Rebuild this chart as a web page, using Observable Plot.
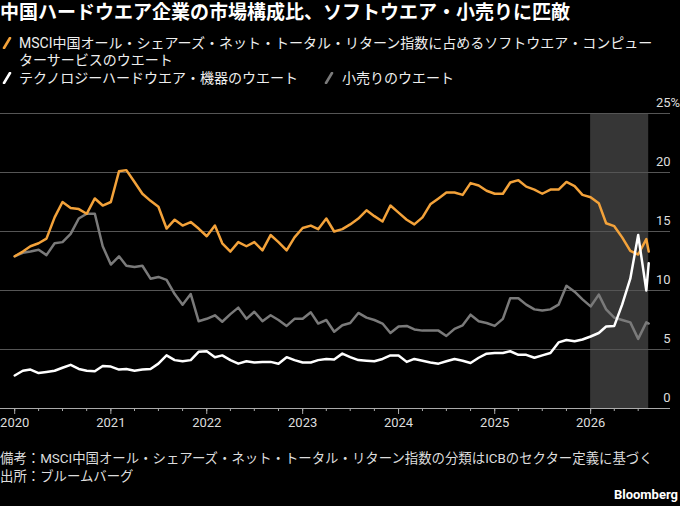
<!DOCTYPE html>
<html><head><meta charset="utf-8">
<script src="https://cdn.jsdelivr.net/npm/d3@7"></script>
<script src="https://cdn.jsdelivr.net/npm/@observablehq/plot@0.6"></script>
<style>
body{margin:0;background:#000;}
#wrap{position:relative;width:680px;height:506px;background:#000;overflow:hidden;font-family:Roboto,"Noto Sans CJK JP",sans-serif;color:#fff;}
.title{position:absolute;left:0;top:0px;font-size:19px;font-weight:bold;line-height:25px;white-space:nowrap;}
.leg{position:absolute;font-size:14px;line-height:18px;white-space:nowrap;color:#eee;}
.ico{position:absolute;}
#chart{position:absolute;left:0;top:90px;}
.foot{position:absolute;left:0;font-size:13.4px;line-height:18px;white-space:nowrap;color:#ddd;}
.brand{position:absolute;right:2px;top:487px;font-size:13px;font-weight:bold;color:#fff;font-family:Roboto,sans-serif;}
</style></head>
<body>
<div id="wrap">
  <div class="title">中国ハードウエア企業の市場構成比、ソフトウエア・小売りに匹敵</div>
  <svg class="ico" style="left:2px;top:37px" width="10" height="12"><line x1="2" y1="11" x2="8" y2="1" stroke="#f3a23a" stroke-width="2.6" stroke-linecap="round"/></svg>
  <div class="leg" style="left:19px;top:34px">MSCI中国オール・シェアーズ・ネット・トータル・リターン指数に占めるソフトウエア・コンピュー</div>
  <div class="leg" style="left:19px;top:51px">ターサービスのウエート</div>
  <svg class="ico" style="left:2px;top:72px" width="10" height="12"><line x1="2" y1="11" x2="8" y2="1" stroke="#ffffff" stroke-width="2.6" stroke-linecap="round"/></svg>
  <div class="leg" style="left:19px;top:69px">テクノロジーハードウエア・機器のウエート</div>
  <svg class="ico" style="left:324px;top:72px" width="10" height="12"><line x1="2" y1="11" x2="8" y2="1" stroke="#7a7a7a" stroke-width="2.6" stroke-linecap="round"/></svg>
  <div class="leg" style="left:342px;top:69px">小売りのウエート</div>
  <div id="chart"></div>
  <div class="foot" style="top:450px">備考：MSCI中国オール・シェアーズ・ネット・トータル・リターン指数の分類はICBのセクター定義に基づく</div>
  <div class="foot" style="top:468px">出所：ブルームバーグ</div>
  <div class="brand">Bloomberg</div>
</div>
<script>
// Monthly observations from Jan 2020, plus a final partial reading
const startMonth = "2020-01-01";
const lastReading = "2026-08-10";
const software = [12.9,13.3,13.75,14.0,14.4,16.2,17.5,17.0,16.9,16.5,
  17.8,17.2,17.5,20.1,20.2,19.2,18.2,17.6,17.1,15.25,
  16.0,15.5,15.8,15.25,14.6,15.5,14.0,13.3,14.1,13.75,
  14.1,13.4,14.7,14.1,13.4,14.5,15.3,15.5,15.2,16.1,
  15.0,15.2,15.6,16.1,16.8,16.3,15.85,17.2,16.6,16.0,
  15.6,16.2,17.3,17.8,18.3,18.3,18.1,19.1,18.9,18.45,
  18.2,18.2,19.15,19.35,18.8,18.55,18.2,18.55,18.55,19.2,
  18.85,18.1,17.9,17.4,15.7,15.45,14.5,13.35,13.05,14.35,13.3];
const hardware = [2.8,3.2,3.3,3.0,3.1,3.2,3.45,3.7,3.35,3.2,
  3.15,3.6,3.55,3.3,3.35,3.2,3.3,3.35,3.8,4.5,
  4.1,4.0,4.1,4.8,4.85,4.35,4.5,4.1,3.8,4.0,
  3.9,3.95,3.95,3.8,4.35,4.1,3.9,3.9,4.1,4.2,
  4.15,4.65,4.35,4.1,4.05,4.0,4.2,4.5,4.5,3.95,
  4.2,4.05,3.9,3.8,4.0,4.2,4.05,3.85,4.3,4.65,
  4.7,4.7,4.85,4.55,4.55,4.3,4.5,4.7,5.6,5.8,
  5.7,5.85,6.1,6.4,6.95,7.0,8.8,11.0,14.7,10.0,12.3];
const retail = [12.9,13.2,13.3,13.45,13.0,14.0,14.1,14.8,16.1,16.5,
  16.5,13.75,12.2,12.9,12.1,12.0,12.1,11.0,11.15,10.9,
  9.7,8.8,9.7,7.4,7.6,7.9,7.35,8.0,8.55,7.6,
  8.2,7.4,7.9,7.5,7.0,7.6,7.6,8.15,7.2,7.5,
  6.5,7.05,7.25,8.1,7.7,7.5,7.2,6.4,6.95,7.0,
  6.7,6.6,6.6,6.6,6.15,6.75,7.05,7.95,7.4,7.25,
  7.0,7.6,9.35,9.35,8.8,8.4,8.3,8.4,8.8,10.4,
  9.9,9.25,8.65,9.65,8.4,7.7,7.5,7.3,5.9,7.3,7.2];
const yTicks = [0,5,10,15,20,25];
const yearTicks = ["2020","2021","2022","2023","2024","2025","2026"];
const shadeStart = "2026-01-01";
const shadeEnd = lastReading;
const xDomain = ["2019-11-08","2026-11-01"];

const colors = {software:"#f3a23a", hardware:"#ffffff", retail:"#7a7a7a"};

const t0 = new Date(startMonth + "T00:00:00Z");
const nMonths = software.length - 1;
const dates = d3.range(nMonths).map(i => d3.utcMonth.offset(t0, i)).concat([new Date(lastReading + "T00:00:00Z")]);
const rows = (arr) => arr.map((v, i) => ({date: dates[i], value: v}));
const toDate = s => new Date(s + "T00:00:00Z");

const years = yearTicks.map(y => toDate(y + "-01-01"));
const quarters = d3.utcMonth.every(3).range(toDate("2020-01-01"), toDate("2026-08-01"));

const chart = Plot.plot({
  width: 680, height: 350,
  marginLeft: 0, marginRight: 10, marginTop: 23, marginBottom: 32,
  x: {type: "utc", domain: xDomain.map(toDate), label: null},
  y: {domain: [0, 25], axis: null, label: null},
  style: {background: "transparent", color: "#ccc", fontFamily: "Roboto, sans-serif", fontSize: "13px"},
  marks: [
    Plot.rect([{a: toDate(shadeStart), b: toDate(shadeEnd)}], {x1: "a", x2: "b", y1: yTicks[0], y2: yTicks[yTicks.length-1], fill: "#363636"}),
    Plot.ruleY(yTicks.slice(1), {stroke: "#555", strokeWidth: 1}),
    Plot.axisX({ticks: quarters, tickSize: 3, tickFormat: () => "", stroke: "#aaa", label: null}),
    Plot.axisX({ticks: years, tickSize: 6, tickPadding: 3, tickFormat: "%Y", stroke: "#aaa", fill: "#ddd", fontSize: 13, label: null}),
    Plot.ruleY([0], {stroke: "#aaa", strokeWidth: 1.2}),
    Plot.text(yTicks, {y: d => d, text: d => String(d), frameAnchor: "right", textAnchor: "end", dy: -11, fill: "#ddd", fontSize: 13}),
    Plot.text([yTicks[yTicks.length-1]], {y: d => d, text: () => "%", frameAnchor: "right", textAnchor: "start", dy: -11, fill: "#ddd", fontSize: 13}),
    Plot.line(rows(retail), {x: "date", y: "value", stroke: colors.retail, strokeWidth: 2.5, strokeLinejoin: "round"}),
    Plot.line(rows(software), {x: "date", y: "value", stroke: colors.software, strokeWidth: 2.5, strokeLinejoin: "round"}),
    Plot.line(rows(hardware), {x: "date", y: "value", stroke: colors.hardware, strokeWidth: 2.5, strokeLinejoin: "round"})
  ]
});
document.getElementById("chart").appendChild(chart);
</script>
</body></html>
